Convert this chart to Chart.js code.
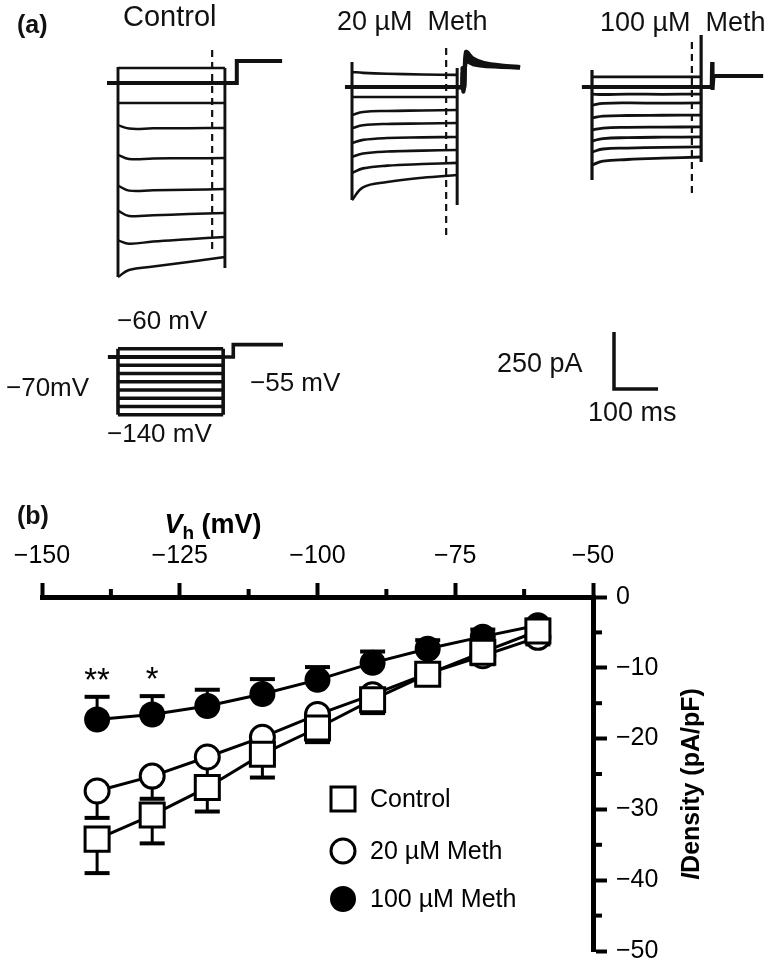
<!DOCTYPE html>
<html lang="en">
<head>
<meta charset="UTF-8">
<title>Meth Ih traces and I-V</title>
<script src="https://cdn.jsdelivr.net/npm/chart.js@4"></script>
<style>
  html, body { margin: 0; padding: 0; background: #fff; }
  body {
    width: 773px; height: 975px; position: relative; overflow: hidden;
    font-family: "Liberation Sans", Arial, sans-serif; color: #111;
  }
  .box { position: absolute; }
  .lbl { position: absolute; white-space: pre; line-height: 1; }
</style>
</head>
<body>

<div class="box" style="left:0;top:0;width:773px;height:480px"><canvas id="traces"></canvas></div>
<div class="box" style="left:100px;top:330px;width:200px;height:100px"><canvas id="protocol"></canvas></div>
<div class="box" style="left:0;top:480px;width:773px;height:495px"><canvas id="iv"></canvas></div>

<div class="lbl" style="left:17px;top:12px;font-size:25px;font-weight:bold">(a)</div>
<div class="lbl" style="left:123px;top:2px;font-size:29px">Control</div>
<div class="lbl" style="left:337px;top:8px;font-size:27px">20 µM  Meth</div>
<div class="lbl" style="left:600px;top:9px;font-size:27px">100 µM  Meth</div>
<div class="lbl" style="left:117px;top:307px;font-size:26px">−60 mV</div>
<div class="lbl" style="left:6px;top:374px;font-size:26px">−70mV</div>
<div class="lbl" style="left:250px;top:369px;font-size:26px">−55 mV</div>
<div class="lbl" style="left:107px;top:420px;font-size:26px">−140 mV</div>
<div class="lbl" style="left:497px;top:350px;font-size:27px">250 pA</div>
<div class="lbl" style="left:588px;top:399px;font-size:27px">100 ms</div>
<div class="lbl" style="left:17px;top:503px;font-size:25px;font-weight:bold">(b)</div>

<script>
// ---------- panel (a): current traces ----------
const msPerPx = 100 / 44;   // 100 ms scale bar
const pAPerPx = 250 / 57;   // 250 pA scale bar
const mvPerPx = 80 / 66;    // protocol box: -60 to -140 mV

const sweepMv = [-60, -70, -80, -90, -100, -110, -120, -130, -140];
const sampleMs = [0, 25, 80, 160];   // + step end

// current relative to holding (pA) at sampleMs and step end, one row per sweep
const controlPA = [
  [66, 66, 66, 66, 66],
  [0, 0, 0, 0, 0],
  [-88, -88, -88, -88, -88],
  [-185, -200, -199, -198, -197],
  [-315, -333, -331, -330, -329],
  [-450, -472, -470, -468, -465],
  [-560, -583, -580, -575, -570],
  [-690, -705, -695, -685, -675],
  [-851, -820, -805, -785, -763]
];
const meth20PA = [
  [66, 62, 58, 55, 53],
  [0, 0, 0, 0, 0],
  [-44, -44, -44, -44, -44],
  [-123, -110, -105, -103, -101],
  [-180, -168, -162, -160, -158],
  [-246, -232, -224, -221, -219],
  [-307, -292, -283, -279, -276],
  [-377, -357, -345, -338, -333],
  [-496, -440, -417, -398, -386]
];
const meth100PA = [
  [44, 44, 44, 44, 44],
  [0, 0, 0, 0, 0],
  [-31, -33, -31, -32, -31],
  [-79, -72, -70, -71, -70],
  [-136, -128, -125, -124, -123],
  [-189, -180, -177, -176, -175],
  [-237, -226, -222, -220, -219],
  [-285, -272, -268, -265, -263],
  [-342, -325, -318, -312, -307]
];

// tails after the step (back to -70, then -55 mV)
const controlTailMs = [243, 270, 270, 373];
const controlTailPA = [[0, 0, 97, 97]];
const meth20TailMs = [239, 250, 251, 253, 255, 259, 275, 300, 340, 382];
const meth20TailPA = [
  [0, 0, 83, -20, 0, 154, 125, 105, 94, 88],
  [0, 0, 60, -10, 0, 132, 112, 98, 90, 86],
  [0, 0, 40, -5, 0, 112, 100, 92, 88, 85]
];
const meth100TailMs = [248, 272, 273, 274, 276, 389];
const meth100TailPA = [[0, 0, 110, -13, 48, 48]];

const groups = [
  { pa: controlPA, step: 243, pre: -25, edge: [70, -851, 66, -811], dash: [214, 145, -746],
    tailMs: controlTailMs, tailPA: controlTailPA, tailTension: 0, x: 118, y: 83, w: 2.5 },
  { pa: meth20PA, step: 239, pre: -16, edge: [110, -496, 83, -518], dash: [214, 171, -671],
    tailMs: meth20TailMs, tailPA: meth20TailPA, tailTension: 0.25, x: 352, y: 87, w: 2.6 },
  { pa: meth100PA, step: 248, pre: -23, edge: [75, -408, 228, -329], dash: [227, 197, -482],
    tailMs: meth100TailMs, tailPA: meth100TailPA, tailTension: 0, x: 592, y: 87, w: 2.8 }
];

const holdPx = 87;

function line(data, w, tension) {
  return { data, showLine: true, borderColor: '#111', borderWidth: w, pointRadius: 0,
           tension: tension, fill: false };
}

function groupSets(g) {
  const t0 = g.x * msPerPx, i0 = (holdPx - g.y) * pAPerPx;
  const pt = (t, i) => ({ x: t0 + t, y: i0 + i });
  const ts = sampleMs.concat([g.step]);
  const sets = [];
  g.pa.forEach((row, k) => {
    sets.push(line(row.map((v, j) => pt(ts[j], v)), sweepMv[k] === -70 ? 4 : g.w, 0.4));
  });
  sets.push(line([pt(g.pre, 0), pt(0, 0)], 4, 0));
  sets.push(line([pt(0, g.edge[0]), pt(0, g.edge[1])], g.w + 0.4, 0));
  sets.push(line([pt(g.step, g.edge[2]), pt(g.step, g.edge[3])], g.w + 0.4, 0));
  g.tailPA.forEach(row => {
    sets.push(line(g.tailMs.map((t, j) => pt(t, row[j])), 4, g.tailTension));
  });
  const d = line([pt(g.dash[0], g.dash[1]), pt(g.dash[0], g.dash[2])], 2.2, 0);
  d.borderDash = [7, 5];
  sets.push(d);
  return sets;
}

// scale bar: 100 ms x 250 pA, corner at (614, 389) on the page
const barT = 614 * msPerPx, barI = (holdPx - 389) * pAPerPx;
const scaleBar = line([{ x: barT, y: barI + 250 }, { x: barT, y: barI }, { x: barT + 100, y: barI }], 3.5, 0);

const traceSets = [].concat(...groups.map(groupSets), [scaleBar]);

const bareOpts = (xmin, xmax, ymin, ymax) => ({
  responsive: true, maintainAspectRatio: false, animation: false,
  layout: { padding: 0 },
  plugins: { legend: { display: false }, tooltip: { enabled: false } },
  scales: {
    x: { type: 'linear', display: false, min: xmin, max: xmax },
    y: { type: 'linear', display: false, min: ymin, max: ymax }
  }
});

new Chart(document.getElementById('traces'), {
  type: 'scatter',
  data: { datasets: traceSets },
  options: bareOpts(0, 773 * msPerPx, (holdPx - 480) * pAPerPx, holdPx * pAPerPx)
});

// ---------- voltage protocol ----------
const protoStepMs = 239;
const protoPreMs = -23;
const protoTailMs = [239, 262, 262, 375];
const protoTailMv = [-70, -70, -55, -55];

const protoSets = sweepMv.map(v => v === -70
  ? line([{ x: protoPreMs, y: v }, { x: protoStepMs, y: v }], 4, 0)
  : line([{ x: 0, y: v }, { x: protoStepMs, y: v }], 3.6, 0));
protoSets.push(line([{ x: 0, y: -60 }, { x: 0, y: -140 }], 3.6, 0));
protoSets.push(line([{ x: protoStepMs, y: -60 }, { x: protoStepMs, y: -140 }], 3.6, 0));
protoSets.push(line(protoTailMs.map((t, j) => ({ x: t, y: protoTailMv[j] })), 3.6, 0));

const pxMin = (100 - 118) * msPerPx;
const pyMax = -70 + (357 - 330) * mvPerPx;
new Chart(document.getElementById('protocol'), {
  type: 'scatter',
  data: { datasets: protoSets },
  options: bareOpts(pxMin, pxMin + 200 * msPerPx, pyMax - 100 * mvPerPx, pyMax)
});

// ---------- panel (b): I-V ----------
const vh = [-140, -130, -120, -110, -100, -90, -80, -70, -60];
const control = [-34.2, -30.8, -26.9, -22.2, -18.5, -14.5, -10.9, -7.8, -4.8];
const meth20 = [-27.4, -25.3, -22.6, -19.8, -16.6, -13.8, -10.8, -8.3, -5.7];
const meth100 = [-17.3, -16.6, -15.4, -13.7, -11.7, -9.3, -7.3, -5.6, -4.0];
const controlSem = [4.8, 4.0, 3.4, 3.3, 2.0, 1.9, 1.5, 1.2, 0.8];
const meth20Sem = [3.8, 3.2, 2.8, 2.4, 2.0, 1.8, 1.5, 1.2, 1.0];
const meth100Sem = [3.2, 2.6, 2.3, 2.1, 1.8, 1.6, 1.2, 1.0, 0.8];
const signif = ['**', '*', '', '', '', '', '', '', ''];
const seriesNames = ['Control', '20 µM Meth', '100 µM Meth'];

const FONT = '"Liberation Sans", Arial, sans-serif';
const minus = v => String(v).replace('-', '\u2212');

const errInfo = [
  { mean: control, sem: controlSem, dir: -1 },
  { mean: meth20, sem: meth20Sem, dir: -1 },
  { mean: meth100, sem: meth100Sem, dir: 1 }
];

const errorBars = {
  id: 'errorBars',
  beforeDatasetsDraw(chart) {
    const { ctx, scales: { x, y } } = chart;
    ctx.save();
    ctx.strokeStyle = '#000';
    errInfo.forEach(e => {
      e.sem.forEach((s, i) => {
        const px = x.getPixelForValue(vh[i]);
        const y0 = y.getPixelForValue(e.mean[i]);
        const y1 = y.getPixelForValue(e.mean[i] + e.dir * s);
        ctx.lineWidth = 3;
        ctx.beginPath(); ctx.moveTo(px, y0); ctx.lineTo(px, y1); ctx.stroke();
        ctx.lineWidth = 4;
        ctx.beginPath(); ctx.moveTo(px - 12.5, y1); ctx.lineTo(px + 12.5, y1); ctx.stroke();
      });
    });
    ctx.restore();
  }
};

function marker(ctx, kind, cx, cy) {
  ctx.lineWidth = 3;
  ctx.strokeStyle = '#000';
  if (kind === 0) {
    ctx.fillStyle = '#fff';
    ctx.fillRect(cx - 12, cy - 12, 24, 24);
    ctx.strokeRect(cx - 12, cy - 12, 24, 24);
  } else {
    ctx.beginPath(); ctx.arc(cx, cy, kind === 1 ? 12 : 13, 0, Math.PI * 2);
    ctx.fillStyle = kind === 1 ? '#fff' : '#000';
    ctx.fill();
    if (kind === 1) ctx.stroke();
  }
}

const decor = {
  id: 'decor',
  afterDraw(chart) {
    const { ctx, chartArea: a, scales: { x, y } } = chart;
    ctx.save();
    // minor ticks
    ctx.strokeStyle = '#000';
    ctx.lineWidth = 4;
    [-137.5, -112.5, -87.5, -62.5].forEach(v => {
      const px = x.getPixelForValue(v);
      ctx.beginPath(); ctx.moveTo(px, a.top); ctx.lineTo(px, a.top - 8); ctx.stroke();
    });
    [-5, -15, -25, -35, -45].forEach(v => {
      const py = y.getPixelForValue(v);
      ctx.beginPath(); ctx.moveTo(a.right, py); ctx.lineTo(a.right + 9, py); ctx.stroke();
    });

    ctx.fillStyle = '#000';
    // x title: Vh (mV)
    ctx.textBaseline = 'alphabetic';
    const parts = [
      { t: 'V', f: 'italic bold 27px ' + FONT, dy: 0 },
      { t: 'h', f: 'bold 19px ' + FONT, dy: 6 },
      { t: ' (mV)', f: 'bold 27px ' + FONT, dy: 0 }
    ];
    let total = 0;
    parts.forEach(p => { ctx.font = p.f; p.w = ctx.measureText(p.t).width; total += p.w; });
    let cx = 213 - total / 2;
    parts.forEach(p => { ctx.font = p.f; ctx.fillText(p.t, cx, 53 + p.dy); cx += p.w; });

    // y title: I Density (pA/pF)
    ctx.save();
    ctx.translate(692, 304);
    ctx.rotate(-Math.PI / 2);
    ctx.textBaseline = 'middle';
    const yp = [
      { t: 'I', f: 'italic bold 25px ' + FONT },
      { t: 'Density (pA/pF)', f: 'bold 25px ' + FONT }
    ];
    let yt = 0;
    yp.forEach(p => { ctx.font = p.f; p.w = ctx.measureText(p.t).width; yt += p.w; });
    let yx = -yt / 2;
    yp.forEach(p => { ctx.font = p.f; ctx.fillText(p.t, yx, 0); yx += p.w; });
    ctx.restore();

    // significance stars above the 100 µM error caps
    ctx.font = '33px ' + FONT;
    ctx.textAlign = 'center';
    ctx.textBaseline = 'alphabetic';
    signif.forEach((s, i) => {
      if (!s) return;
      const px = x.getPixelForValue(vh[i]);
      const py = y.getPixelForValue(meth100[i] + meth100Sem[i]);
      ctx.fillText(s, px, py - 6);
    });

    // legend
    ctx.textAlign = 'left';
    ctx.textBaseline = 'middle';
    ctx.font = '25px ' + FONT;
    [319, 371, 419].forEach((ly, k) => {
      marker(ctx, k, 343, ly);
      ctx.fillStyle = '#000';
      ctx.fillText(seriesNames[k], 370, ly + 1);
    });
    ctx.restore();
  }
};

const ivSet = (data, style, radius, bg, order) => ({
  data: vh.map((v, i) => ({ x: v, y: data[i] })),
  showLine: true, borderColor: '#000', borderWidth: 3,
  pointStyle: style, pointRadius: radius, pointBackgroundColor: bg,
  pointBorderColor: '#000', pointBorderWidth: 3, order: order, tension: 0
});

const tickFont = { family: FONT, size: 25 };

new Chart(document.getElementById('iv'), {
  type: 'scatter',
  data: {
    datasets: [
      ivSet(control, 'rect', 17, '#fff', 0),
      ivSet(meth20, 'circle', 12, '#fff', 1),
      Object.assign(ivSet(meth100, 'circle', 13, '#000', 2), { pointBorderWidth: 0 })
    ]
  },
  options: {
    responsive: true, maintainAspectRatio: false, animation: false,
    layout: { padding: { left: 42, right: 0, top: 0, bottom: 13 } },
    plugins: { legend: { display: false }, tooltip: { enabled: false } },
    scales: {
      x: {
        type: 'linear', position: 'top', min: -150, max: -50,
        afterFit: s => { s.height = 117; },
        ticks: { stepSize: 25, color: '#000', font: tickFont, padding: 12, callback: minus },
        grid: { drawOnChartArea: false, tickLength: 14, tickWidth: 4, tickColor: '#000' },
        border: { display: true, width: 5, color: '#000' }
      },
      y: {
        type: 'linear', position: 'right', min: -50, max: 0,
        afterFit: s => { s.width = 180; },
        ticks: { stepSize: 10, color: '#000', font: tickFont, padding: 9, callback: minus },
        grid: { drawOnChartArea: false, tickLength: 14, tickWidth: 4, tickColor: '#000' },
        border: { display: true, width: 5, color: '#000' }
      }
    }
  },
  plugins: [errorBars, decor]
});
</script>
</body>
</html>
